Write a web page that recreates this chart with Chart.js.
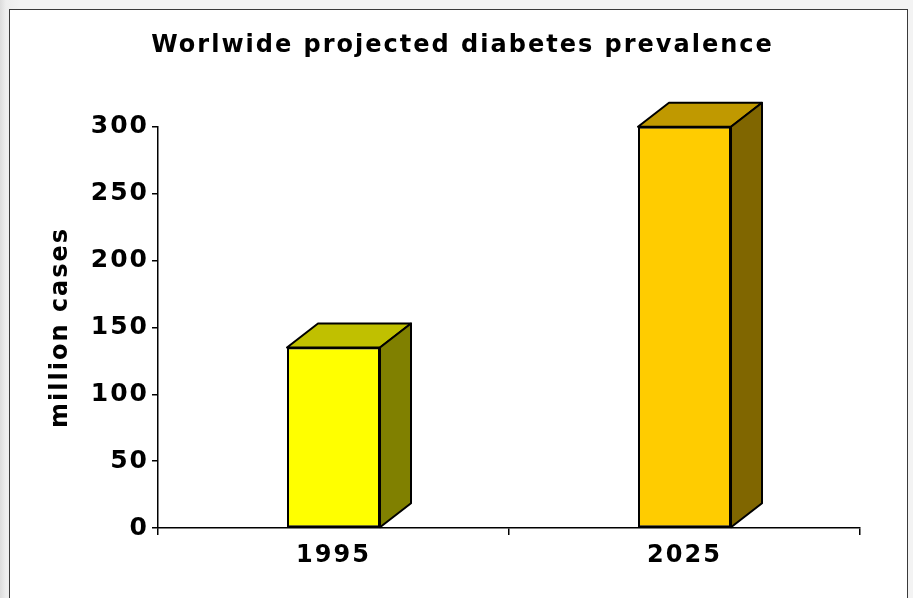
<!DOCTYPE html>
<html>
<head>
<meta charset="utf-8">
<script src="https://cdn.jsdelivr.net/npm/chart.js@4.4.1/dist/chart.umd.min.js"></script>
<style>
  html, body { margin: 0; padding: 0; }
  body {
    width: 913px; height: 598px; overflow: hidden;
    background: linear-gradient(to right, #dcdcdc 0px, #eeeeee 6px, #f3f3f3 20px);
    position: relative;
  }
  .frame {
    position: absolute; left: 9px; top: 9px; width: 897px; height: 600px;
    background: #fff; border: 1px solid #3a3a3a;
  }
  .frame canvas { position: absolute; left: 0; top: 0; }
</style>
</head>
<body>
<div class="frame">
  <canvas id="prevalenceChart" width="897" height="589"></canvas>
</div>
<script>
const years = ['1995', '2025'];
const millionCases = [135, 300];
const yTicks = [0, 50, 100, 150, 200, 250, 300];

const frontColors = ['#FFFF00', '#FFCC00'];
const topColors = ['#C0C000', '#C09900'];
const sideColors = ['#808000', '#806600'];

const DEPTH_X = 31;
const DEPTH_Y = 24;
const FONT = "'DejaVu Sans', Verdana, sans-serif";

// wide-set lettering; the canvas state is reset on resize, so set it per pass
const letterSpacing = {
  id: 'letterSpacing',
  beforeUpdate(chart) { chart.ctx.letterSpacing = '2px'; },
  beforeDraw(chart) { chart.ctx.letterSpacing = '2px'; }
};

// top and right faces so the bars look like boxes
const boxFaces = {
  id: 'boxFaces',
  afterDatasetsDraw(chart) {
    const ctx = chart.ctx;
    chart.getDatasetMeta(0).data.forEach((bar, i) => {
      const left = bar.x - bar.width / 2;
      const right = bar.x + bar.width / 2;
      const top = bar.y;
      const base = bar.base;
      ctx.save();
      ctx.lineWidth = 2;
      ctx.strokeStyle = '#000';
      ctx.lineJoin = 'round';

      ctx.beginPath();
      ctx.moveTo(left, top);
      ctx.lineTo(left + DEPTH_X, top - DEPTH_Y);
      ctx.lineTo(right + DEPTH_X, top - DEPTH_Y);
      ctx.lineTo(right, top);
      ctx.closePath();
      ctx.fillStyle = topColors[i];
      ctx.fill();
      ctx.stroke();

      ctx.beginPath();
      ctx.moveTo(right, top);
      ctx.lineTo(right + DEPTH_X, top - DEPTH_Y);
      ctx.lineTo(right + DEPTH_X, base - DEPTH_Y);
      ctx.lineTo(right, base);
      ctx.closePath();
      ctx.fillStyle = sideColors[i];
      ctx.fill();
      ctx.stroke();
      ctx.restore();
    });
  }
};

const ctx = document.getElementById('prevalenceChart').getContext('2d');

new Chart(ctx, {
  type: 'bar',
  data: {
    labels: years,
    datasets: [{
      data: millionCases,
      backgroundColor: frontColors,
      borderColor: '#000',
      borderWidth: 2,
      borderSkipped: false,
      categoryPercentage: 1,
      barPercentage: 0.265
    }]
  },
  options: {
    responsive: false,
    animation: false,
    // left padding keeps the title centred on the frame
    layout: { padding: { left: 55, right: 47, top: 0, bottom: 0 } },
    plugins: {
      legend: { display: false },
      tooltip: { enabled: false },
      title: {
        display: true,
        text: 'Worlwide projected diabetes prevalence',
        color: '#000',
        font: { family: FONT, size: 24, weight: 'bold' },
        padding: { top: 21, bottom: 67 }
      }
    },
    scales: {
      x: {
        offset: true,
        border: { color: '#000', width: 1.5 },
        grid: { drawOnChartArea: false, offset: true, tickLength: 7, color: '#000', lineWidth: 1.5 },
        ticks: { color: '#000', padding: 6, font: { family: FONT, size: 24, weight: 'bold' } },
        afterFit(scale) { scale.height = 71; }
      },
      y: {
        min: 0,
        max: 300,
        afterBuildTicks(scale) { scale.ticks = yTicks.map(v => ({ value: v })); },
        border: { color: '#000', width: 1.5 },
        grid: { drawOnChartArea: false, tickLength: 6, color: '#000', lineWidth: 1.5 },
        ticks: { color: '#000', padding: 3, font: { family: FONT, size: 25, weight: 'bold' } },
        title: {
          display: true,
          text: 'million cases',
          color: '#000',
          font: { family: FONT, size: 24, weight: 'bold' },
          // axis title sits to the left of the padded area
          padding: { top: -19, bottom: 0 }
        },
        afterFit(scale) { scale.width = 93; }
      }
    }
  },
  plugins: [letterSpacing, boxFaces]
});
</script>
</body>
</html>
